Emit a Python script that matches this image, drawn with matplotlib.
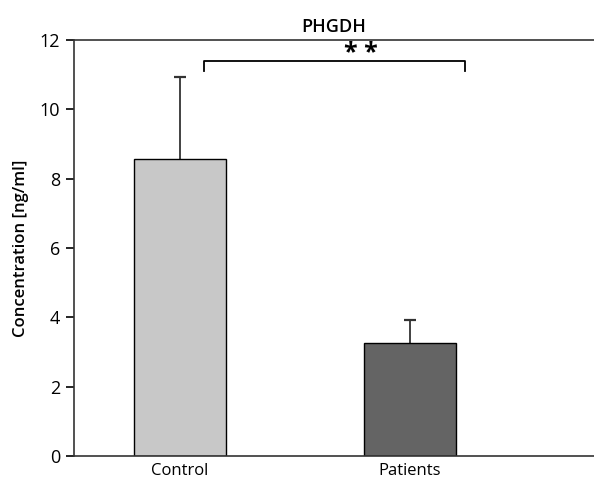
import matplotlib
matplotlib.use("Agg")
import matplotlib.pyplot as plt

plt.rcParams['font.family'] = ['Open Sans', 'DejaVu Sans']

groups = ['Control', 'Patients']
means = [8.58, 3.26]
errs = [2.35, 0.66]
colors = ['#c8c8c8', '#646464']
yticks = [0, 2, 4, 6, 8, 10, 12]

fig = plt.figure(figsize=(5.94, 4.82), dpi=100)
ax = fig.add_axes([0.1246, 0.054, 0.8754, 0.863])

x = list(range(len(groups)))
tops = [m + e for m, e in zip(means, errs)]
# upper error bars only
ax.vlines(x, means, tops, color='#333333', lw=1.3, zorder=1)
ax.plot(x, tops, ls='none', marker='_', ms=9, mew=1.6, color='#333333', zorder=1)
ax.bar(x, means, width=0.4, color=colors, edgecolor='black', linewidth=1.0, zorder=2)

# significance bracket
ax.plot([0.104, 0.104, 1.24, 1.24], [11.1, 11.39, 11.39, 11.1], color='black', lw=1.3)
ax.text(0.787, 11.62, '* *', ha='center', va='center', fontsize=18, fontweight='bold')

ax.set_xlim(-0.46, 1.8)
ax.set_ylim(0, 12)
ax.set_yticks(yticks)
ax.set_xticks(x)
ax.set_xticklabels(groups)
ax.tick_params(axis='x', length=0, labelsize=12, pad=5)
ax.tick_params(axis='y', length=6, width=1.2, labelsize=13, pad=4)
ax.spines['right'].set_visible(False)
for s in ['left', 'top', 'bottom']:
    ax.spines[s].set_color('#333333')
    ax.spines[s].set_linewidth(1.2)

ax.set_ylabel('Concentration [ng/ml]', fontsize=12, fontweight='semibold', labelpad=8)
ax.set_title('PHGDH', fontsize=13, fontweight='semibold', pad=6)

fig.savefig('out.png', dpi=100)
